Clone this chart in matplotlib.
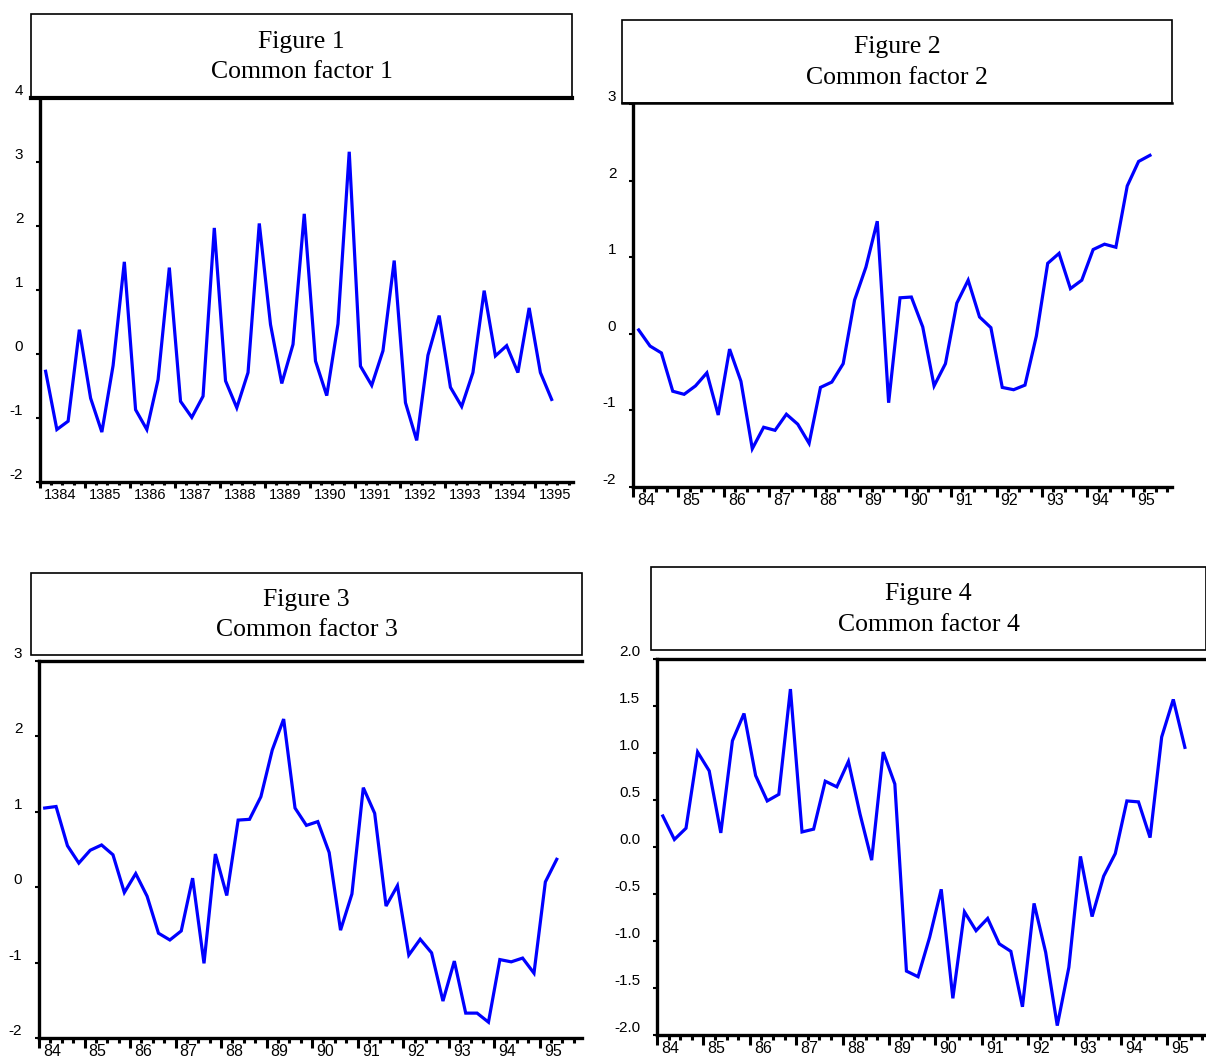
import numpy as np
import matplotlib
matplotlib.use('Agg')
import matplotlib.pyplot as plt
from matplotlib.patches import Rectangle
from matplotlib.lines import Line2D
from matplotlib.ticker import FixedLocator, FixedFormatter
from matplotlib.transforms import ScaledTranslation

# quarterly observations, 1384Q1 .. 1395Q2
factor1 = [-0.27, -1.18, -1.05, 0.38, -0.69, -1.22, -0.18, 1.44, -0.87, -1.18,
           -0.40, 1.35, -0.74, -0.99, -0.66, 1.97, -0.42, -0.84, -0.29, 2.04,
           0.46, -0.46, 0.15, 2.19, -0.11, -0.65, 0.47, 3.16, -0.19, -0.49,
           0.05, 1.46, -0.76, -1.35, -0.02, 0.60, -0.52, -0.82, -0.29, 0.99,
           -0.03, 0.13, -0.29, 0.72, -0.29, -0.71]
factor2 = [0.05, -0.16, -0.25, -0.75, -0.79, -0.68, -0.51, -1.06, -0.20, -0.62,
           -1.50, -1.22, -1.26, -1.05, -1.18, -1.43, -0.70, -0.63, -0.39, 0.44,
           0.87, 1.47, -0.90, 0.47, 0.48, 0.09, -0.68, -0.39, 0.40, 0.70,
           0.22, 0.08, -0.70, -0.73, -0.67, -0.03, 0.92, 1.05, 0.59, 0.70,
           1.10, 1.17, 1.13, 1.93, 2.25, 2.33]
factor3 = [1.05, 1.07, 0.55, 0.32, 0.49, 0.56, 0.43, -0.07, 0.18, -0.12,
           -0.61, -0.70, -0.58, 0.12, -1.01, 0.44, -0.11, 0.89, 0.90, 1.20,
           1.82, 2.23, 1.05, 0.82, 0.87, 0.46, -0.57, -0.09, 1.32, 0.98,
           -0.25, 0.02, -0.90, -0.69, -0.87, -1.51, -0.98, -1.67, -1.67, -1.79,
           -0.96, -0.99, -0.94, -1.14, 0.07, 0.37]
factor4 = [0.33, 0.08, 0.20, 1.01, 0.81, 0.15, 1.13, 1.42, 0.76, 0.49,
           0.56, 1.68, 0.16, 0.19, 0.70, 0.64, 0.91, 0.35, -0.14, 1.01,
           0.67, -1.32, -1.38, -0.96, -0.45, -1.61, -0.69, -0.89, -0.76, -1.03,
           -1.11, -1.70, -0.60, -1.12, -1.90, -1.28, -0.10, -0.74, -0.31, -0.07,
           0.49, 0.48, 0.10, 1.17, 1.57, 1.06]

years = list(range(1384, 1396))
labels_long = [str(y) for y in years]
labels_short = [str(y)[2:] for y in years]

yticks1 = [-2, -1, 0, 1, 2, 3, 4]
yticks23 = [-2, -1, 0, 1, 2, 3]
yticks4 = [-2.0, -1.5, -1.0, -0.5, 0.0, 0.5, 1.0, 1.5, 2.0]

W, H = 1206, 1059
fig = plt.figure(figsize=(W / 100, H / 100), dpi=100)

serif = ['Liberation Serif', 'DejaVu Serif']
sans = ['Liberation Sans Narrow', 'Liberation Sans', 'DejaVu Sans']


def title_box(x0, y0, x1, y1, text, bottom_lw=None):
    rect = Rectangle((x0 / W, 1 - y1 / H), (x1 - x0) / W, (y1 - y0) / H,
                     transform=fig.transFigure, facecolor='white',
                     edgecolor='black', lw=1.2, zorder=5)
    fig.add_artist(rect)
    if bottom_lw:
        fig.add_artist(Line2D([x0 / W, x1 / W], [1 - y1 / H, 1 - y1 / H],
                              transform=fig.transFigure, color='black',
                              lw=bottom_lw, zorder=6))
    fig.text((x0 + x1) / 2 / W, 1 - (y0 + y1 + 2) / 2 / H, text, ha='center',
             va='center', family=serif, fontsize=18.5, linespacing=1.5,
             zorder=7)


def panel(left, top, right, bottom, vals, ylim, yticks, ylabels, xlabels,
          top_spine, start, span, maj_len, min_len, xsize):
    ax = fig.add_axes([left / W, 1 - bottom / H, (right - left) / W,
                       (bottom - top) / H])
    x = start + (np.arange(len(vals)) + 0.5) / 4
    ax.plot(x, vals, color='#0000ff', lw=2.3, solid_joinstyle='miter')
    ax.set_xlim(start, start + span)
    ax.set_ylim(*ylim)
    ax.spines['right'].set_visible(False)
    ax.spines['top'].set_visible(top_spine)
    for s in ['left', 'bottom', 'top']:
        ax.spines[s].set_linewidth(2.4)
    ax.yaxis.set_major_locator(FixedLocator(yticks))
    ax.yaxis.set_major_formatter(FixedFormatter(ylabels))
    yrs = [start + k for k in range(12)]
    ax.xaxis.set_major_locator(FixedLocator(yrs))
    ax.xaxis.set_major_formatter(FixedFormatter(xlabels))
    ax.xaxis.set_minor_locator(FixedLocator(
        [start + k / 4 for k in range(int(span * 4) + 1) if k % 4]))
    ax.tick_params(axis='y', direction='out', length=3, width=1.5, pad=9,
                   labelsize=11)
    ax.tick_params(axis='x', which='major', direction='out', length=maj_len,
                   width=2.2, pad=-maj_len + 4.5, labelsize=xsize)
    ax.tick_params(axis='x', which='minor', direction='out', length=min_len,
                   width=2.2)
    off = ScaledTranslation(3 / 72, 0, fig.dpi_scale_trans)
    for lab in ax.get_xticklabels():
        lab.set_ha('left')
        lab.set_family(sans)
        lab.set_transform(lab.get_transform() + off)
    for lab in ax.get_yticklabels():
        lab.set_va('bottom')
        lab.set_family(sans)
    return ax


title_box(31, 14, 572, 98, 'Figure 1\nCommon factor 1', bottom_lw=3.0)
panel(40, 98, 573, 482, factor1, (-2, 4), yticks1,
      [str(v) for v in yticks1], labels_long, False, 1384, 11.85, 4.5, 2,
      10.5)

title_box(622, 20, 1172, 103, 'Figure 2\nCommon factor 2', bottom_lw=1.8)
panel(633, 104, 1172, 487, factor2, (-2, 3), yticks23,
      [str(v) for v in yticks23], labels_short, False, 84, 11.86, 7, 3.5,
      11.5)

title_box(31, 573, 582, 655, 'Figure 3\nCommon factor 3')
panel(39, 661, 582, 1038, factor3, (-2, 3), yticks23,
      [str(v) for v in yticks23], labels_short, True, 84, 11.93, 7, 3.5,
      11.5)

title_box(651, 567, 1206, 650, 'Figure 4\nCommon factor 4')
panel(657, 659, 1206, 1035, factor4, (-2, 2), yticks4,
      ['%.1f' % v for v in yticks4], labels_short, True, 84, 11.83, 7, 3.5,
      11.5)

fig.savefig('out.png', dpi=100)
